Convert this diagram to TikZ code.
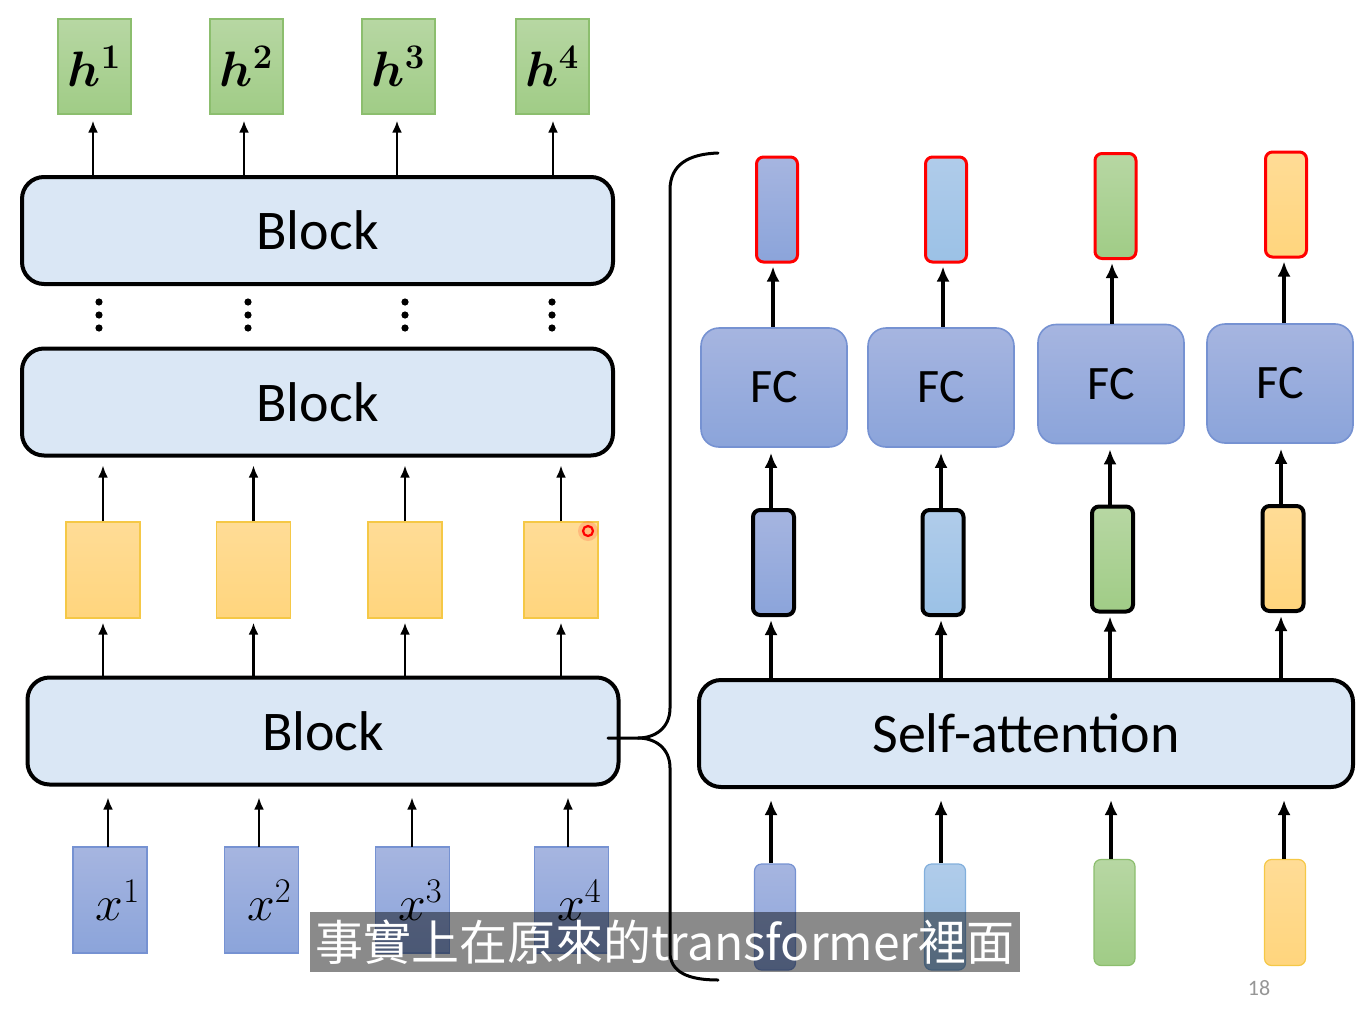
\documentclass[tikz,border=0pt]{standalone}
\usepackage{fontspec}
\setmainfont{Carlito}
\newfontfamily\cjk{Noto Sans CJK TC}
\usepackage{bm}
\usetikzlibrary{arrows.meta}
\definecolor{blockfill}{RGB}{218,231,245}
\definecolor{gTop}{RGB}{183,215,163}
\definecolor{gBot}{RGB}{160,204,134}
\definecolor{gBd}{RGB}{140,190,110}
\definecolor{yTop}{RGB}{255,220,150}
\definecolor{yBot}{RGB}{255,213,125}
\definecolor{yBd}{RGB}{245,200,70}
\definecolor{bTop}{RGB}{166,181,224}
\definecolor{bBot}{RGB}{139,164,218}
\definecolor{bBd}{RGB}{118,146,210}
\definecolor{lTop}{RGB}{176,204,234}
\definecolor{lBot}{RGB}{155,193,230}
\definecolor{lBd}{RGB}{130,175,220}
\definecolor{pgray}{RGB}{150,150,150}
\begin{document}
\begin{tikzpicture}[x=0.5pt,y=-0.5pt,
  arrL/.style={line width=1.4pt,-{Latex[length=6pt,width=5pt]}},
  arrR/.style={line width=2pt,-{Latex[length=7.5pt,width=6.5pt]}},
  blockbox/.style={draw=black,line width=2pt,rounded corners=11pt,fill=blockfill,
     minimum width=295.5pt,minimum height=53.5pt,inner sep=0pt,font=\fontsize{28}{30}\selectfont},
  hbox/.style={draw=gBd,line width=0.6pt,top color=gTop,bottom color=gBot,
     minimum width=36.5pt,minimum height=47.5pt,inner sep=0pt,font=\fontsize{25}{27}\selectfont},
  ybox/.style={draw=yBd,line width=0.6pt,top color=yTop,bottom color=yBot,
     minimum width=37pt,minimum height=48pt,inner sep=0pt},
  xbox/.style={draw=bBd,line width=0.6pt,top color=bTop,bottom color=bBot,
     minimum width=37pt,minimum height=53pt,inner sep=0pt,font=\fontsize{25}{27}\selectfont},
  fcbox/.style={draw=bBd,line width=0.8pt,top color=bTop,bottom color=bBot,rounded corners=9pt,
     minimum width=73pt,minimum height=59.5pt,inner sep=0pt,font=\fontsize{24}{26}\selectfont},
  vecbox/.style={rounded corners=3.5pt,minimum width=20.5pt,minimum height=52.5pt,inner sep=0pt},
  vb/.style={vecbox,top color=bTop,bottom color=bBot},
  vl/.style={vecbox,top color=lTop,bottom color=lBot},
  vg/.style={vecbox,top color=gTop,bottom color=gBot},
  vy/.style={vecbox,top color=yTop,bottom color=yBot},
  redbd/.style={draw=red,line width=1.5pt},
  blkbd/.style={draw=black,line width=2pt},
  dotc/.style={circle,fill=black,minimum size=3.6pt,inner sep=0pt}
]
\useasboundingbox (0,0) rectangle (1364,1011);

% ---------- left column ----------
\node[hbox] (h1) at (94.5,66.5) {$\bm{h}^{\bm{1}}$};
\node[hbox] (h2) at (246.5,66.5) {$\bm{h}^{\bm{2}}$};
\node[hbox] (h3) at (398.5,66.5) {$\bm{h}^{\bm{3}}$};
\node[hbox] (h4) at (552.5,66.5) {$\bm{h}^{\bm{4}}$};

\node[blockbox] (B3) at (317.5,230.5) {Block};
\node[blockbox] (B2) at (317.5,402) {Block};
\node[blockbox] (B1) at (323,731) {Block};

\foreach \i/\x in {1/93,2/244,3/397,4/553}{
  \coordinate (t\i) at (\x,177);
}
\draw[arrL,shorten >=3pt] (t1) -- (t1 |- h1.south);
\draw[arrL,shorten >=3pt] (t2) -- (t2 |- h2.south);
\draw[arrL,shorten >=3pt] (t3) -- (t3 |- h3.south);
\draw[arrL,shorten >=3pt] (t4) -- (t4 |- h4.south);

\foreach \i/\x in {1/99,2/248,3/405,4/552}{
  \node[dotc] (da\i) at (\x,302) {};
  \node[dotc] (db\i) at (\x,315) {};
  \node[dotc] (dc\i) at (\x,328) {};
}

\node[ybox] (y1) at (103,570) {};
\node[ybox] (y2) at (253.5,570) {};
\node[ybox] (y3) at (405,570) {};
\node[ybox] (y4) at (561,570) {};

\foreach \i in {1,2,3,4}{
  \draw[arrL,shorten >=4pt] (y\i.north) -- (y\i.north |- B2.south);
  \draw[arrL,shorten >=2pt] (y\i.south |- B1.north) -- (y\i.south);
}

\node[xbox] (x1) at (110,900) {\hspace*{8pt}$x^{1}$};
\node[xbox] (x2) at (261.5,900) {\hspace*{8pt}$x^{2}$};
\node[xbox] (x3) at (412.5,900) {\hspace*{8pt}$x^{3}$};
\node[xbox] (x4) at (571.5,900) {\hspace*{8pt}$x^{4}$};
\foreach \i/\x in {1/108,2/259,3/412,4/568}{
  \coordinate (xs\i) at (\x,847);
  \draw[arrL,shorten >=5.5pt] (xs\i) -- (xs\i |- B1.south);
}

% red pointer
\fill[red,opacity=0.15] (588,531) circle (5pt);
\node[circle,draw=red,line width=1.1pt,minimum size=5pt,inner sep=0pt] (ptr) at (588,531) {};

% ---------- brace ----------
\draw[line width=1.5pt,line cap=round]
  (718,153) .. controls (688,154) and (670,165) .. (670,190)
  -- (670,708) .. controls (670,728) and (655,738) .. (638,738)
  -- (608,738);
\draw[line width=1.5pt,line cap=round]
  (638,738) .. controls (655,738) and (670,748) .. (670,768)
  -- (670,952) .. controls (670,972) and (688,980) .. (718,980);

% ---------- right column ----------
\node[vb,redbd] (r1) at (777,209.5) {};
\node[vl,redbd] (r2) at (946,209.5) {};
\node[vg,redbd] (r3) at (1115.5,206) {};
\node[vy,redbd] (r4) at (1286,204.5) {};

\node[fcbox] (f1) at (774,387.5) {FC};
\node[fcbox] (f2) at (941,387.5) {FC};
\node[fcbox] (f3) at (1111,384) {FC};
\node[fcbox] (f4) at (1280,383.5) {FC};

\node[vb,blkbd] (m1) at (773.5,562.5) {};
\node[vl,blkbd] (m2) at (943,562.5) {};
\node[vg,blkbd] (m3) at (1112.5,559) {};
\node[vy,blkbd] (m4) at (1283,558.5) {};

\node[blockbox,minimum width=327pt] (SA) at (1026,733.5) {Self-attention};

\node[vb,draw=bBd,line width=0.6pt,minimum height=53pt] (i1) at (775,917) {};
\node[vl,draw=lBd,line width=0.6pt,minimum height=53pt] (i2) at (945,917) {};
\node[vg,draw=gBd,line width=0.6pt,minimum height=53pt] (i3) at (1114.5,912.5) {};
\node[vy,draw=yBd,line width=0.6pt,minimum height=53pt] (i4) at (1285,912.5) {};

\foreach \i/\xa/\xb/\xc/\xd in {1/773/771/771/771,2/943/941/941/941,3/1112/1110/1110/1111,4/1284/1281/1281/1284}{
  \coordinate (fo\i) at (\xa,0);
  \draw[arrR,shorten >=1.5pt] (fo\i |- f\i.north) -- (fo\i |- r\i.south);
  \coordinate (mo\i) at (\xb,0);
  \draw[arrR,shorten >=2.5pt] (mo\i |- m\i.north) -- (mo\i |- f\i.south);
  \coordinate (so\i) at (\xc,0);
  \draw[arrR,shorten >=1.5pt] (so\i |- SA.north) -- (so\i |- m\i.south);
  \coordinate (io\i) at (\xd,0);
  \draw[arrR,shorten >=5.5pt] (io\i |- i\i.north) -- (io\i |- SA.south);
}

\node[text=pgray,font=\fontsize{11}{12}\selectfont] (pg) at (1259,988) {18};

% ---------- subtitle ----------
\node[fill=black,fill opacity=0.46,text opacity=1,text=white,inner sep=0pt,
  minimum width=355pt,minimum height=30pt,font=\cjk\fontsize{24}{26}\selectfont]
  (sub) at (665,942) {事實上在原來的transformer裡面};
\end{tikzpicture}
\end{document}
